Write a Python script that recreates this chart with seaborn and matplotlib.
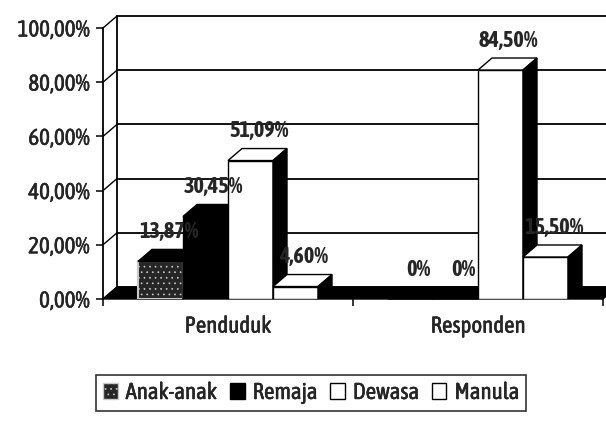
import matplotlib
matplotlib.use("Agg")
import matplotlib.pyplot as plt
import matplotlib.patheffects as pe
import numpy as np
import pandas as pd
import seaborn as sns
from matplotlib import font_manager
from matplotlib.patches import Patch, Polygon
from matplotlib.ticker import FuncFormatter

groups = ["Penduduk", "Responden"]
series = ["Anak-anak", "Remaja", "Dewasa", "Manula"]
penduduk = [13.87, 30.45, 51.09, 4.60]
responden = [0.0, 0.0, 84.50, 15.50]
y_ticks = [0, 20, 40, 60, 80, 100]

front_colors = ["#262626", "black", "white", "white"]
top_colors = ["black", "black", "white", "white"]

sns.set_style("white")
# narrow faces (the original uses Arial Narrow): one regular cut, one bold cut
fams = {}
for f in font_manager.fontManager.ttflist:
    if ("Narrow" in f.name or "Condensed" in f.name
            or str(f.stretch) in ("condensed", "semi-condensed", "extra-condensed")):
        fams.setdefault(f.name, set()).add(str(f.weight))
regular = sorted(n for n, w in fams.items() if w & {"normal", "400", "regular", "book"})
bold = sorted(n for n, w in fams.items() if w & {"bold", "700", "600", "semibold", "demibold"})
both = [n for n in regular if n in bold]
REG = (both or regular or sorted(fams) or ["Liberation Sans"])[0]
BOLD = (both or bold or [REG])[0]
plt.rcParams["font.family"] = [REG, "DejaVu Sans"]
plt.rcParams["hatch.linewidth"] = 0.5
fs = 16.5 if fams else 14.5
thick = [pe.withStroke(linewidth=0.3, foreground="black")]

df = pd.DataFrame({
    "Kelompok": np.repeat(groups, len(series)),
    "Usia": series * len(groups),
    "Persen": penduduk + responden,
})

fig = plt.figure(figsize=(6.06, 4.23), dpi=100)
ax = fig.add_axes([103 / 606, 124 / 423, 500 / 606, 271 / 423])

sns.barplot(data=df, x="Kelompok", y="Persen", hue="Usia", hue_order=series,
            palette=front_colors, saturation=1, width=0.72, edgecolor="black",
            linewidth=1, legend=False, ax=ax)
ax.set_xlim(-0.5, 1.5)
ax.set_ylim(0, 100)
bars = sorted(list(ax.patches), key=lambda p: p.get_x())

# depth of the fake 3D look, in pixels -> data units
p0 = ax.transData.transform((0, 0))
p1 = ax.transData.transform((1, 100))
dx = 14 / (p1[0] - p0[0])
dy = 12 / (p1[1] - p0[1]) * 100

x0, x1 = -0.5, 1.5
# back wall grid and side wall
for y in y_ticks:
    ax.plot([x0 + dx, x1 + dx + 0.2], [y + dy, y + dy], color="black", lw=1.3, zorder=0.5, clip_on=False)
    ax.plot([x0, x0 + dx], [y, y + dy], color="black", lw=1, zorder=0.5, clip_on=False)
ax.plot([x0 + dx, x0 + dx], [dy, 100 + dy], color="black", lw=1.3, zorder=0.5, clip_on=False)
# floor
ax.add_patch(Polygon([(x0, 0), (x1, 0), (x1 + dx, dy), (x0 + dx, dy)], closed=True,
                     facecolor="black", edgecolor="black", zorder=0.8, clip_on=False))

for i, bar in enumerate(bars):
    s = i % len(series)
    z = 2 + i * 0.1
    bar.set_zorder(z)
    if s == 0:
        bar.set_hatch("...")
        bar.set_edgecolor("#c8c8c8")
        bar.set_linewidth(1.5)
    xl, xr, h = bar.get_x(), bar.get_x() + bar.get_width(), bar.get_height()
    top = [(xl, h), (xr, h), (xr + dx, h + dy), (xl + dx, h + dy)]
    side = [(xr, 0), (xr, h), (xr + dx, h + dy), (xr + dx, dy)]
    ax.add_patch(Polygon(top, closed=True, facecolor=top_colors[s], edgecolor="black",
                         lw=1, zorder=z, clip_on=False))
    ax.add_patch(Polygon(side, closed=True, facecolor="black", edgecolor="black",
                         lw=1, zorder=z, clip_on=False))
    label = "0%" if h == 0 else f"{h:.2f}%".replace(".", ",")
    ax.annotate(label, (xl + bar.get_width() / 2, h), xytext=(6, 13), textcoords="offset points",
                ha="center", va="bottom", fontsize=fs - 0.5, fontweight="bold",
                family=[BOLD, "DejaVu Sans"], zorder=10, annotation_clip=False)

for side in ["top", "right", "bottom"]:
    ax.spines[side].set_visible(False)
ax.spines["left"].set_color("black")
ax.spines["left"].set_linewidth(1.3)
ax.axhline(0, color="black", lw=1.3, zorder=1)

ax.set_yticks(y_ticks)
ax.yaxis.set_major_formatter(FuncFormatter(lambda v, _: f"{v:.2f}%".replace(".", ",")))
ax.tick_params(axis="y", length=5, width=1.3, pad=5, labelsize=fs, left=True)
ax.set_xticks([0, 1])
ax.set_xticklabels(groups)
ax.set_xticks([-0.5, 0.5, 1.5], minor=True)
ax.tick_params(axis="x", which="major", length=0, pad=12, labelsize=fs)
ax.tick_params(axis="x", which="minor", length=5, width=1.3, bottom=True)
ax.set_xlabel("")
ax.set_ylabel("")
for t in ax.get_xticklabels() + ax.get_yticklabels():
    t.set_path_effects(thick)

handles = [Patch(facecolor=front_colors[0], edgecolor="#c8c8c8", hatch="...")]
handles += [Patch(facecolor=c, edgecolor="black") for c in front_colors[1:]]
leg = fig.legend(handles, series, loc="center", bbox_to_anchor=(311 / 606, 30 / 423), ncol=4,
                 frameon=True, fancybox=False, edgecolor="black", fontsize=fs,
                 handlelength=0.65, handleheight=0.65, handletextpad=0.35, columnspacing=0.55,
                 borderpad=0.3)
leg.get_frame().set_linewidth(1.2)
for t in leg.get_texts():
    t.set_path_effects(thick)

fig.savefig("out.png", dpi=100)
